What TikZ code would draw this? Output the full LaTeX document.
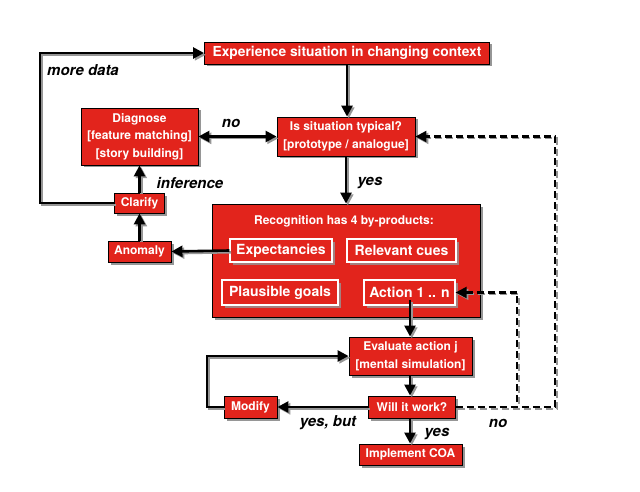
\documentclass[tikz,border=0pt]{standalone}
\usepackage{fontspec}
\setmainfont{TeX Gyre Heros}
\usetikzlibrary{arrows.meta,shadows,calc}
\definecolor{boxred}{RGB}{226,36,28}
\definecolor{shad}{RGB}{150,150,150}
\tikzset{
  redbox/.style={draw=black, line width=0.9pt, fill=boxred, text=white, font=\bfseries,
    align=center, inner sep=1pt,
    drop shadow={shadow xshift=2.5pt, shadow yshift=-2.5pt, fill=shad, opacity=1}},
  innerbox/.style={draw=white, line width=1.2pt, fill=boxred, text=white, align=center,
    inner sep=1pt, font=\fontsize{14}{16}\bfseries,
    drop shadow={shadow xshift=2.5pt, shadow yshift=-2.5pt, fill=shad!80!boxred, opacity=1}},
  small/.style={font=\fontsize{12}{17.5}\bfseries},
  lbl/.style={font=\fontsize{15}{17}\bfseries\itshape, text=black, inner sep=0pt},
  conn/.style={line width=2.6pt, draw=black,
    preaction={draw=shad, line width=2.4pt, transform canvas={shift={(1.8pt,-1.8pt)}}}},
  arr/.style={conn, -{Triangle[length=11pt,width=11pt]}},
  dasharr/.style={line width=2.2pt, draw=black, dash pattern=on 7pt off 4pt,
    -{Triangle[length=11pt,width=11pt]},
    preaction={draw=shad, line width=1.8pt, dash pattern=on 7pt off 4pt, transform canvas={shift={(1.8pt,-1.8pt)}}}},
}
\begin{document}
\begin{tikzpicture}[x=1pt,y=-1pt]
\useasboundingbox[fill=white] (0,0) rectangle (640,492);

\node[redbox, minimum width=285pt, minimum height=22pt, font=\fontsize{13.8}{15}\bfseries] (exp) at (347,53) {Experience situation in changing context};
\node[redbox, small, minimum width=138pt, minimum height=39pt] (typ) at (346,136.5) {Is situation typical?\\{}[prototype / analogue]};
\node[redbox, small, minimum width=117pt, minimum height=57pt] (diag) at (139.5,136.5) {\raisebox{-3pt}{}Diagnose\\{}[feature matching]\\{}[story building]};
\node[redbox, small, minimum width=50pt, minimum height=20pt] (clar) at (139.5,203) {Clarify};
\node[redbox, small, minimum width=63pt, minimum height=21pt] (anom) at (139.5,251.5) {Anomaly};

\node[redbox, minimum width=268pt, minimum height=113pt] (rec) at (346,260.5) {};
\node[text=white, font=\fontsize{12}{14}\bfseries, inner sep=0pt] (rectitle) at (344,221) {Recognition has 4 by-products:};
\node[innerbox, minimum width=102pt, minimum height=23pt] (expc) at (281,250.5) {Expectancies};
\node[innerbox, minimum width=109pt, minimum height=23pt] (cues) at (401.5,250.5) {Relevant cues};
\node[innerbox, minimum width=116pt, minimum height=25pt] (goals) at (280,292.5) {Plausible goals};
\node[innerbox, minimum width=91pt, minimum height=25pt] (act) at (409.5,292.5) {Action 1 .. n};

\node[redbox, small, minimum width=123pt, minimum height=38pt] (eval) at (410.5,356) {Evaluate action j\\{}[mental simulation]};
\node[redbox, small, minimum width=87pt, minimum height=22pt] (will) at (412,407) {Will it work?};
\node[redbox, small, minimum width=53pt, minimum height=22pt] (mod) at (250.5,407) {Modify};
\node[redbox, small, minimum width=103pt, minimum height=21pt] (impl) at (410.5,454.5) {Implement COA};

\coordinate (md) at (40,53);
\coordinate (ml) at (207,356);
\coordinate (r1) at (555,136.5);
\coordinate (r2) at (517,292.5);

\draw[arr] (exp.south) -- (exp.south |- typ.north);
\draw[arr] (typ.south) -- (typ.south |- rec.north);
\draw[conn, {Triangle[length=11pt,width=11pt]}-{Triangle[length=11pt,width=11pt]}] (diag.east) -- (typ.west);
\draw[arr] (clar.north) -- (clar.north |- diag.south);
\draw[arr] (anom.north) -- (anom.north |- clar.south);
\draw[arr] (expc.west) -- (anom.east);
\draw[arr] (clar.west) -- (clar.west -| md) -- (md) -- (exp.west);
\draw[arr] (410,300) -- (410,336.5);
\draw[arr] (410,375) -- (410,395.5);
\draw[arr] (will.west) -- (mod.east);
\draw[arr] (mod.west) -- (mod.west -| ml) -- (ml) -- (eval.west);
\draw[arr] (410,418) -- (410,443.5);
\draw[dasharr] (will.east) -- (will.east -| r1) -- (r1) -- (typ.east);
\draw[dasharr] (will.east) -- (will.east -| r2) -- (r2) -- (act.east);

\node[lbl, anchor=west] (lmd) at (47,70) {more data};
\node[lbl] (lno1) at (231,123) {no};
\node[lbl] (linf) at (190,183) {inference};
\node[lbl] (lyes1) at (370,183) {yes};
\node[lbl] (lyb) at (328,423) {yes, but};
\node[lbl] (lno2) at (498,423) {no};
\node[lbl] (lyes2) at (437,434) {yes};
\end{tikzpicture}
\end{document}
